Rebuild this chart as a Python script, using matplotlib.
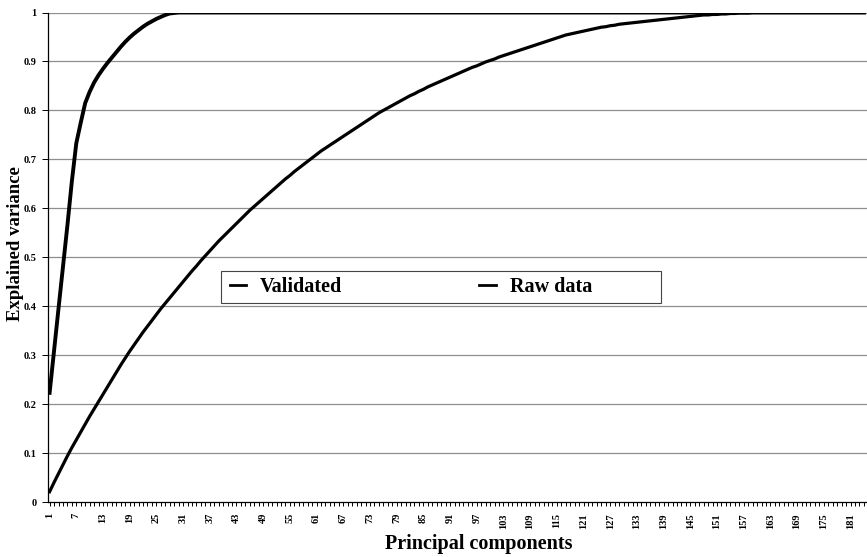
import matplotlib
matplotlib.use("Agg")
import matplotlib.pyplot as plt
from matplotlib.patches import Rectangle
import numpy as np

n_components = 184
validated_head = [0.223, 0.310, 0.395, 0.480, 0.565, 0.655, 0.733, 0.775, 0.815, 0.838,
                  0.857, 0.872, 0.885, 0.897, 0.908, 0.919, 0.930, 0.940, 0.949, 0.957,
                  0.964, 0.971, 0.977, 0.982, 0.987, 0.991, 0.995, 0.998, 0.999]
validated = validated_head + [1.0] * (n_components - len(validated_head))

raw_head = [0.021, 0.040, 0.058, 0.076, 0.094, 0.111, 0.127, 0.143, 0.159, 0.175,
            0.190, 0.205, 0.220, 0.235, 0.250, 0.265, 0.280, 0.294, 0.308, 0.321,
            0.334, 0.347, 0.359, 0.371, 0.383, 0.395, 0.406, 0.417, 0.428, 0.439,
            0.450, 0.461, 0.472, 0.482, 0.493, 0.503, 0.513, 0.523, 0.533, 0.542,
            0.551, 0.560, 0.569, 0.578, 0.587, 0.596, 0.604, 0.612, 0.620, 0.628,
            0.636, 0.644, 0.652, 0.660, 0.667, 0.675, 0.682, 0.689, 0.696, 0.703,
            0.710, 0.717, 0.723, 0.729, 0.735, 0.741, 0.747, 0.753, 0.759, 0.765,
            0.771, 0.777, 0.783, 0.789, 0.795, 0.800, 0.805, 0.810, 0.815, 0.820,
            0.825, 0.830, 0.834, 0.839, 0.843, 0.848, 0.852, 0.856, 0.860, 0.864,
            0.868, 0.872, 0.876, 0.880, 0.884, 0.888, 0.891, 0.895, 0.899, 0.902,
            0.905, 0.909, 0.912, 0.915, 0.918, 0.921, 0.924, 0.927, 0.930, 0.933,
            0.936, 0.939, 0.942, 0.945, 0.948, 0.951, 0.954, 0.956, 0.958, 0.960,
            0.962, 0.964, 0.966, 0.968, 0.970, 0.971, 0.973, 0.974, 0.976, 0.977,
            0.978, 0.979, 0.980, 0.981, 0.982, 0.983, 0.984, 0.985, 0.986, 0.987,
            0.988, 0.989, 0.990, 0.991, 0.992, 0.993, 0.994, 0.995, 0.995, 0.996,
            0.996, 0.997, 0.997, 0.998, 0.998, 0.999, 0.999, 0.999]
raw_data = raw_head + [1.0] * (n_components - len(raw_head))

components = list(range(1, n_components + 1))
x_tick_labels = [str(c) for c in range(1, n_components + 1, 6)]
y_ticks = [0, 0.1, 0.2, 0.3, 0.4, 0.5, 0.6, 0.7, 0.8, 0.9, 1]
y_tick_labels = ["0", "0.1", "0.2", "0.3", "0.4", "0.5", "0.6", "0.7", "0.8", "0.9", "1"]

serif = ["Liberation Serif", "DejaVu Serif"]
W, H = 867, 557
fig = plt.figure(figsize=(W / 100, H / 100), dpi=100)
ax = fig.add_axes([48 / W, 55 / H, (W - 48) / W, 489.5 / H])

for yv in y_ticks[1:]:
    ax.axhline(yv, color="#8e8e8e", lw=0.9, zorder=1)

ax.plot(components, raw_data, color="black", lw=2.3, label="Raw data", zorder=3)
ax.plot(components, validated, color="black", lw=2.8, label="Validated", zorder=4)

ax.set_xlim(0.64, 184.7)
ax.set_ylim(0, 1)

ax.set_yticks(y_ticks)
ax.set_yticklabels(y_tick_labels, fontfamily=serif, fontweight="bold", fontsize=7.5)
ax.set_xticks([int(s) for s in x_tick_labels])
ax.set_xticklabels(x_tick_labels, rotation=90, fontfamily=serif, fontweight="bold", fontsize=7.5)
ax.set_xticks(components, minor=True)
ax.tick_params(axis="x", which="both", length=3, width=0.7, pad=5)
ax.tick_params(axis="y", length=4, width=0.7, pad=4)

for s in ["top", "right"]:
    ax.spines[s].set_visible(False)
ax.spines["left"].set_linewidth(0.9)
ax.spines["bottom"].set_linewidth(0.9)

ax.set_xlabel("Principal components", fontfamily=serif, fontweight="bold", fontsize=14.5)
ax.xaxis.set_label_coords((479 - 48) / 819, -(544 - 502) / 489.5)
ax.xaxis.label.set_va("center")
ax.set_ylabel("Explained variance", fontfamily=serif, fontweight="bold", fontsize=13.5)
ax.yaxis.set_label_coords(-(48 - 16) / 819, (502 - 244) / 489.5)
ax.yaxis.label.set_va("center")

# legend frame
fig.patches.append(Rectangle((221 / W, (H - 303) / H), (661 - 221) / W, 32 / H,
                             transform=fig.transFigure, facecolor="white",
                             edgecolor="#444444", lw=0.8, zorder=5))
handles, labels = ax.get_legend_handles_labels()
leg = fig.legend(handles[::-1], labels[::-1], ncol=2,
                 loc="center left", bbox_to_anchor=(226 / W, (H - 287) / H),
                 frameon=False, handlelength=0.8, handletextpad=0.7,
                 columnspacing=6.8, borderaxespad=0, borderpad=0.2,
                 prop={"family": serif, "weight": "bold", "size": 14.5})
leg.set_zorder(6)
for l in leg.get_lines():
    l.set_linewidth(2.0)

fig.savefig("out.png", dpi=100)
